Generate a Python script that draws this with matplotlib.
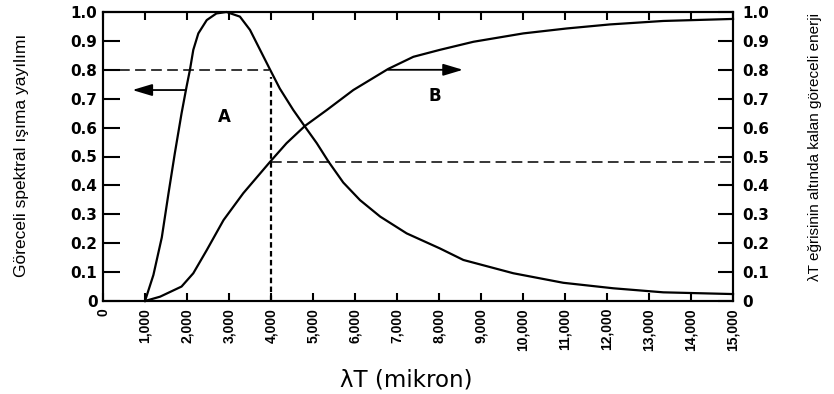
import matplotlib.pyplot as plt

# curve A: relative spectral emissive power vs lambda*T
lamT_A = [1000, 1200, 1400, 1560, 1710, 1870, 1990, 2070, 2150, 2270, 2470,
          2700, 2940, 3260, 3500, 3740, 3980, 4210, 4530, 4810, 5090, 5370,
          5720, 6120, 6600, 7230, 8020, 8580, 9770, 10960, 12150, 13340, 15000]
spec_A = [0.0, 0.09, 0.22, 0.373, 0.511, 0.649, 0.742, 0.80, 0.869, 0.926, 0.972,
          0.995, 1.0, 0.984, 0.938, 0.869, 0.80, 0.735, 0.661, 0.603, 0.546, 0.482,
          0.41, 0.349, 0.292, 0.234, 0.182, 0.142, 0.096, 0.063, 0.044, 0.030, 0.024]

# curve B: fraction of energy below lambda*T
lamT_B = [1000, 1360, 1870, 2150, 2470, 2870, 3340, 3980, 4370, 4810, 5330,
          5960, 6790, 7390, 8020, 8820, 10010, 11040, 12070, 13340, 15000]
frac_B = [0.0, 0.015, 0.05, 0.096, 0.176, 0.28, 0.373, 0.482, 0.546, 0.606, 0.661,
          0.73, 0.803, 0.845, 0.869, 0.897, 0.926, 0.943, 0.957, 0.969, 0.976]

x_ticks = [0, 1000, 2000, 3000, 4000, 5000, 6000, 7000, 8000, 9000, 10000,
           11000, 12000, 13000, 14000, 15000]
x_labels = ['0', '1,000', '2,000', '3,000', '4,000', '5,000', '6,000', '7,000',
            '8,000', '9,000', '10,000', '11,000', '12,000', '13,000', '14,000',
            '15,000']
y_ticks = [0, 0.1, 0.2, 0.3, 0.4, 0.5, 0.6, 0.7, 0.8, 0.9, 1.0]
y_labels = ['0', '0.1', '0.2', '0.3', '0.4', '0.5', '0.6', '0.7', '0.8', '0.9', '1.0']

side_font = ['Liberation Sans', 'DejaVu Sans']

fig = plt.figure(figsize=(8.34, 3.94), dpi=100)
ax = fig.add_axes([103 / 834, 1 - 301 / 394, 630 / 834, 289 / 394])

ax.plot(lamT_A, spec_A, color='black', lw=1.6, clip_on=False, solid_joinstyle='round')
ax.plot(lamT_B, frac_B, color='black', lw=1.6, clip_on=False, solid_joinstyle='round')

# guide lines
ax.plot([0, 3960], [0.8, 0.8], color='black', lw=1.1, ls=(0, (7, 3.5)))
ax.plot([4000, 4000], [0, 0.775], color='black', lw=1.6, ls=(0, (2.5, 1.5)))
ax.plot([4000, 15000], [0.482, 0.482], color='black', lw=1.1, ls=(0, (7, 3.5)))

# arrows
arrow = dict(arrowstyle='-|>,head_length=1.0,head_width=0.3', mutation_scale=12,
             color='black', lw=1.3, shrinkA=0, shrinkB=0)
ax.annotate('', xy=(700, 0.73), xytext=(1960, 0.73), arrowprops=arrow)
ax.annotate('', xy=(8570, 0.80), xytext=(6790, 0.80), arrowprops=arrow)

ax.text(2900, 0.637, 'A', ha='center', va='center', fontweight='bold', fontsize=12)
ax.text(7900, 0.71, 'B', ha='center', va='center', fontweight='bold', fontsize=12)

ax.set_xlim(0, 15000)
ax.set_ylim(0, 1.0)
ax.set_xticks(x_ticks)
ax.set_xticklabels(x_labels, rotation=90, ha='center', va='top',
                   family='Liberation Sans', fontweight='bold', fontsize=10)
ax.set_yticks(y_ticks)
ax.set_yticklabels(y_labels, fontweight='bold', fontsize=11)
ax.tick_params(axis='x', direction='in', length=6, width=1.5, top=True, bottom=True, pad=5)
ax.tick_params(axis='y', direction='in', length=12, width=1.5, left=True, right=False, pad=4)

ax2 = ax.twinx()
ax2.set_ylim(0, 1.0)
ax2.set_yticks(y_ticks)
ax2.set_yticklabels(y_labels, fontweight='bold', fontsize=11)
ax2.tick_params(axis='y', direction='in', length=11, width=1.5, pad=7)

for a in (ax, ax2):
    for s in a.spines.values():
        s.set_linewidth(1.5)

fig.text(406 / 834, 1 - 380 / 394, 'λT (mikron)', ha='center', va='center', fontsize=16.5)
fig.text(22 / 834, 1 - 155 / 394, 'Göreceli spektral ışıma yayılımı', rotation=90,
         ha='center', va='center', fontsize=12.5, family=side_font)
fig.text(815 / 834, 1 - 147 / 394, 'λT eğrisinin altında kalan göreceli enerji',
         rotation=90, ha='center', va='center', fontsize=11, family=side_font)

fig.savefig('out.png', dpi=100)
